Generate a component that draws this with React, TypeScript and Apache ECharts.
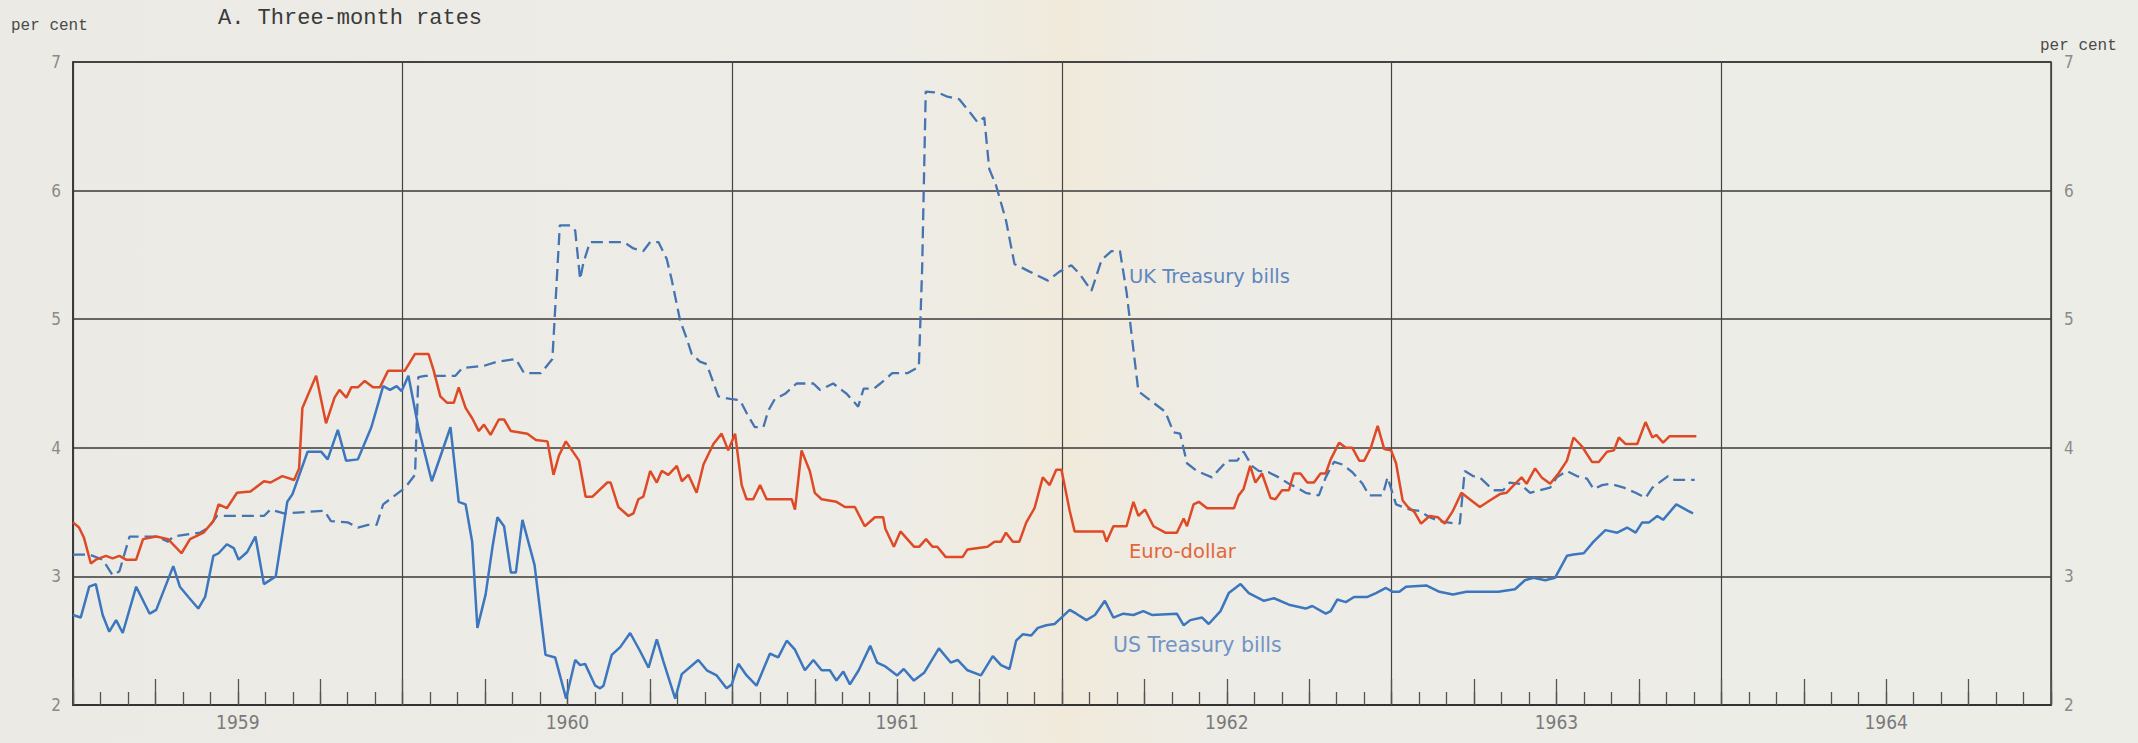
import React, { useEffect, useRef } from "react";
import * as echarts from "echarts";

// x = months since January 1959, y = per cent
const YEARS = ["1959", "1960", "1961", "1962", "1963", "1964"];

const EURO_DOLLAR: [number, number][] = [
  [0, 3.42], [0.22, 3.38], [0.4, 3.3], [0.65, 3.1], [0.83, 3.13], [1.2, 3.16], [1.44, 3.14], [1.69, 3.16],
  [1.93, 3.13], [2.3, 3.13], [2.55, 3.29], [3.03, 3.31], [3.46, 3.29], [3.95, 3.18], [4.26, 3.29], [4.75, 3.34],
  [5.11, 3.43], [5.3, 3.56], [5.6, 3.53], [5.97, 3.65], [6.46, 3.66], [6.95, 3.74], [7.19, 3.73], [7.62, 3.78],
  [8.05, 3.75], [8.23, 3.84], [8.35, 4.31], [8.85, 4.56], [9.21, 4.19], [9.52, 4.39], [9.7, 4.45], [9.95, 4.39],
  [10.13, 4.47], [10.37, 4.47], [10.62, 4.52], [10.92, 4.47], [11.17, 4.47], [11.47, 4.6], [12.08, 4.6],
  [12.45, 4.73], [12.94, 4.73], [13.13, 4.6], [13.37, 4.4], [13.62, 4.35], [13.86, 4.35], [14.04, 4.47],
  [14.29, 4.31], [14.53, 4.23], [14.77, 4.13], [14.96, 4.18], [15.2, 4.1], [15.5, 4.22], [15.69, 4.22],
  [15.94, 4.13], [16.54, 4.11], [16.85, 4.06], [17.27, 4.05], [17.49, 3.79], [17.69, 3.94], [17.94, 4.05],
  [18.42, 3.9], [18.66, 3.62], [18.91, 3.62], [19.45, 3.73], [19.57, 3.73], [19.85, 3.54], [20.22, 3.47],
  [20.4, 3.49], [20.58, 3.6], [20.76, 3.62], [21.01, 3.82], [21.25, 3.73], [21.43, 3.82], [21.67, 3.79],
  [21.98, 3.86], [22.16, 3.74], [22.4, 3.79], [22.7, 3.65], [22.95, 3.87], [23.31, 4.03], [23.61, 4.11],
  [23.85, 3.98], [24.1, 4.11], [24.34, 3.71], [24.52, 3.6], [24.76, 3.6], [25.01, 3.71], [25.25, 3.6],
  [26.16, 3.6], [26.28, 3.52], [26.52, 3.98], [26.82, 3.82], [27.0, 3.65], [27.25, 3.6], [27.79, 3.58],
  [28.1, 3.54], [28.46, 3.54], [28.82, 3.39], [29.19, 3.46], [29.49, 3.46], [29.57, 3.37], [29.88, 3.23],
  [30.12, 3.35], [30.37, 3.29], [30.62, 3.23], [30.8, 3.23], [31.05, 3.29], [31.29, 3.23], [31.46, 3.23],
  [31.77, 3.15], [32.38, 3.15], [32.56, 3.21], [33.29, 3.23], [33.54, 3.27], [33.78, 3.27], [33.96, 3.34],
  [34.21, 3.27], [34.45, 3.27], [34.7, 3.42], [35.0, 3.53], [35.3, 3.77], [35.55, 3.71], [35.79, 3.83],
  [35.98, 3.83], [36.28, 3.51], [36.46, 3.35], [37.5, 3.35], [37.62, 3.27], [37.87, 3.39], [38.35, 3.39],
  [38.6, 3.58], [38.78, 3.47], [39.02, 3.52], [39.33, 3.39], [39.76, 3.34], [40.18, 3.34], [40.43, 3.45],
  [40.55, 3.39], [40.79, 3.56], [40.98, 3.58], [41.28, 3.53], [42.26, 3.53], [42.43, 3.63], [42.61, 3.68],
  [42.85, 3.86], [43.04, 3.73], [43.28, 3.8], [43.59, 3.61], [43.77, 3.6], [44.01, 3.67], [44.26, 3.67],
  [44.44, 3.8], [44.68, 3.8], [44.93, 3.73], [45.17, 3.73], [45.41, 3.8], [45.6, 3.8], [45.78, 3.91],
  [46.09, 4.04], [46.33, 4.0], [46.57, 4.0], [46.82, 3.9], [47.0, 3.9], [47.24, 4.0], [47.49, 4.17],
  [47.73, 3.99], [47.98, 3.98], [48.16, 3.88], [48.4, 3.59], [48.59, 3.54], [48.83, 3.5], [49.07, 3.41],
  [49.38, 3.47], [49.68, 3.46], [49.93, 3.41], [50.23, 3.51], [50.54, 3.65], [50.84, 3.6], [51.21, 3.54],
  [51.57, 3.59], [51.94, 3.64], [52.18, 3.65], [52.49, 3.72], [52.73, 3.77], [52.91, 3.72], [53.22, 3.84],
  [53.46, 3.77], [53.77, 3.72], [54.07, 3.8], [54.38, 3.9], [54.62, 4.08], [54.93, 4.01], [55.29, 3.89],
  [55.54, 3.89], [55.84, 3.97], [56.09, 3.98], [56.27, 4.08], [56.51, 4.03], [56.94, 4.03], [57.24, 4.2],
  [57.49, 4.08], [57.63, 4.1], [57.88, 4.04], [58.12, 4.09], [59.09, 4.09],
];

const UK_TREASURY_BILLS: [number, number][] = [
  [0, 3.17], [0.59, 3.17], [1.08, 3.13], [1.44, 3.01], [1.69, 3.04], [2.06, 3.31], [3.03, 3.31], [3.46, 3.27],
  [3.65, 3.31], [4.62, 3.34], [4.93, 3.38], [5.24, 3.47], [6.95, 3.47], [7.19, 3.52], [7.68, 3.49], [9.15, 3.51],
  [9.39, 3.43], [10.0, 3.42], [10.37, 3.38], [10.74, 3.4], [11.05, 3.4], [11.29, 3.56], [11.6, 3.61],
  [12.09, 3.69], [12.45, 3.79], [12.57, 4.55], [12.82, 4.56], [13.92, 4.56], [14.17, 4.62], [15.0, 4.64],
  [15.45, 4.67], [16.12, 4.69], [16.42, 4.58], [17.03, 4.58], [17.45, 4.69], [17.72, 5.73], [18.1, 5.73],
  [18.28, 5.69], [18.46, 5.31], [18.58, 5.44], [18.82, 5.6], [20.05, 5.6], [20.4, 5.55], [20.76, 5.53],
  [21.01, 5.6], [21.31, 5.6], [21.61, 5.47], [21.79, 5.31], [22.1, 4.99], [22.34, 4.85], [22.52, 4.73],
  [22.82, 4.67], [23.07, 4.65], [23.49, 4.4], [23.92, 4.38], [24.28, 4.37], [24.52, 4.27], [24.82, 4.16],
  [25.13, 4.16], [25.31, 4.29], [25.55, 4.38], [25.92, 4.42], [26.34, 4.5], [26.95, 4.5], [27.19, 4.45],
  [27.67, 4.5], [28.16, 4.42], [28.58, 4.32], [28.78, 4.46], [29.15, 4.46], [29.39, 4.5], [29.82, 4.58],
  [30.37, 4.58], [30.79, 4.63], [30.91, 5.4], [31.04, 6.77], [31.52, 6.76], [31.83, 6.73], [32.26, 6.71],
  [32.68, 6.6], [32.93, 6.53], [33.17, 6.57], [33.35, 6.17], [33.6, 6.04], [33.96, 5.77], [34.27, 5.43],
  [34.82, 5.37], [35.49, 5.3], [35.91, 5.37], [36.34, 5.42], [36.65, 5.35], [37.07, 5.22], [37.44, 5.46],
  [37.8, 5.53], [38.11, 5.53], [38.35, 5.21], [38.78, 4.44], [39.33, 4.35], [39.76, 4.28], [40.06, 4.12],
  [40.3, 4.11], [40.55, 3.88], [40.91, 3.82], [41.46, 3.77], [42.01, 3.9], [42.38, 3.9], [42.61, 3.97],
  [42.91, 3.86], [43.16, 3.82], [43.52, 3.81], [43.89, 3.77], [44.26, 3.72], [44.56, 3.69], [44.87, 3.65],
  [45.35, 3.63], [45.6, 3.77], [45.9, 3.89], [46.21, 3.87], [46.57, 3.81], [46.94, 3.72], [47.18, 3.63],
  [47.67, 3.63], [47.85, 3.77], [48.16, 3.56], [48.4, 3.54], [48.65, 3.52], [49.01, 3.51], [49.38, 3.46],
  [49.74, 3.43], [50.35, 3.41], [50.48, 3.41], [50.66, 3.82], [50.96, 3.78], [51.21, 3.77], [51.7, 3.67],
  [52.06, 3.67], [52.3, 3.73], [52.67, 3.72], [53.04, 3.65], [53.4, 3.67], [53.77, 3.69], [54.01, 3.77],
  [54.38, 3.82], [54.74, 3.78], [55.11, 3.76], [55.35, 3.68], [55.66, 3.71], [55.96, 3.72], [56.45, 3.69],
  [56.88, 3.65], [57.24, 3.61], [57.49, 3.69], [58.06, 3.78], [58.3, 3.75], [59.03, 3.75],
];

const US_TREASURY_BILLS: [number, number][] = [
  [0, 2.7], [0.28, 2.68], [0.59, 2.92], [0.83, 2.94], [1.08, 2.7], [1.32, 2.57], [1.57, 2.66], [1.81, 2.56],
  [2.3, 2.92], [2.79, 2.71], [3.03, 2.74], [3.65, 3.08], [3.89, 2.92], [4.2, 2.84], [4.56, 2.75], [4.81, 2.84],
  [5.11, 3.16], [5.3, 3.18], [5.6, 3.25], [5.85, 3.22], [6.03, 3.13], [6.34, 3.19], [6.64, 3.31], [6.95, 2.94],
  [7.38, 3.0], [7.8, 3.58], [7.99, 3.64], [8.54, 3.97], [9.03, 3.97], [9.27, 3.91], [9.64, 4.14], [9.94, 3.9],
  [10.37, 3.91], [10.86, 4.16], [11.29, 4.48], [11.54, 4.45], [11.78, 4.48], [11.96, 4.44], [12.21, 4.56],
  [12.57, 4.16], [13.06, 3.74], [13.74, 4.16], [14.04, 3.58], [14.29, 3.56], [14.53, 3.27], [14.72, 2.6],
  [15.02, 2.86], [15.27, 3.23], [15.45, 3.46], [15.69, 3.39], [15.94, 3.03], [16.12, 3.03], [16.36, 3.44],
  [16.8, 3.09], [17.2, 2.39], [17.55, 2.37], [17.95, 2.05], [18.28, 2.35], [18.46, 2.31], [18.64, 2.32],
  [19.01, 2.15], [19.19, 2.13], [19.31, 2.15], [19.61, 2.39], [19.92, 2.45], [20.28, 2.56], [20.64, 2.42],
  [20.95, 2.29], [21.25, 2.51], [21.49, 2.34], [21.92, 2.05], [22.16, 2.24], [22.76, 2.35], [23.07, 2.27],
  [23.43, 2.23], [23.79, 2.13], [23.98, 2.16], [24.22, 2.32], [24.52, 2.23], [24.88, 2.15], [25.37, 2.4],
  [25.67, 2.37], [25.98, 2.5], [26.28, 2.43], [26.64, 2.27], [26.95, 2.35], [27.25, 2.27], [27.55, 2.27],
  [27.79, 2.19], [28.04, 2.26], [28.28, 2.16], [28.6, 2.27], [29.02, 2.46], [29.27, 2.33], [29.57, 2.3],
  [30.0, 2.23], [30.24, 2.28], [30.61, 2.19], [30.98, 2.25], [31.52, 2.44], [31.95, 2.33], [32.2, 2.35],
  [32.56, 2.27], [33.05, 2.23], [33.48, 2.38], [33.78, 2.31], [34.09, 2.28], [34.33, 2.5], [34.57, 2.55],
  [34.88, 2.54], [35.12, 2.6], [35.43, 2.62], [35.73, 2.63], [35.98, 2.68], [36.28, 2.74], [36.52, 2.71],
  [36.89, 2.66], [37.2, 2.7], [37.56, 2.81], [37.87, 2.68], [38.23, 2.71], [38.6, 2.7], [38.96, 2.73],
  [39.27, 2.7], [40.18, 2.71], [40.43, 2.62], [40.67, 2.66], [41.1, 2.68], [41.34, 2.63], [41.77, 2.73],
  [42.07, 2.87], [42.5, 2.94], [42.8, 2.87], [43.35, 2.81], [43.72, 2.83], [44.26, 2.78], [44.87, 2.75],
  [45.11, 2.77], [45.6, 2.71], [45.78, 2.73], [46.02, 2.82], [46.33, 2.8], [46.63, 2.84], [47.12, 2.84],
  [47.43, 2.87], [47.79, 2.91], [48.04, 2.88], [48.28, 2.88], [48.52, 2.92], [49.26, 2.93], [49.74, 2.88],
  [50.23, 2.86], [50.72, 2.88], [51.33, 2.88], [51.88, 2.88], [52.49, 2.9], [52.85, 2.97], [53.16, 2.99],
  [53.59, 2.97], [53.95, 2.99], [54.38, 3.16], [54.62, 3.17], [54.99, 3.18], [55.35, 3.27], [55.78, 3.36],
  [56.21, 3.34], [56.57, 3.38], [56.88, 3.34], [57.12, 3.42], [57.37, 3.42], [57.67, 3.47], [57.88, 3.44],
  [58.36, 3.56], [58.79, 3.51], [58.97, 3.49],
];

const NUM_FONT = "'Liberation Sans Narrow', 'DejaVu Sans Condensed', 'Roboto', sans-serif";
const LABEL_FONT = "'DejaVu Sans', sans-serif";
const MONO_FONT = "'Liberation Mono', 'DejaVu Sans Mono', monospace";

export default function App() {
  const ref = useRef<HTMLDivElement>(null);

  useEffect(() => {
    document.body.style.margin = "0";
    document.body.style.background = "#edece7";
    const chart = echarts.init(ref.current as HTMLDivElement, null, { renderer: "svg" });
    const ink = "#3a3a3a";
    const tickStyle = { color: "#555", width: 1.3 };
    chart.setOption({
      animation: false,
      backgroundColor: "transparent",
      grid: {
        left: 73,
        right: 87,
        top: 62,
        bottom: 38,
        show: true,
        borderColor: ink,
        borderWidth: 1.5,
        backgroundColor: "transparent",
      },
      xAxis: [
        {
          type: "value", min: 0, max: 72, interval: 1, position: "bottom",
          axisLine: { show: true, lineStyle: { color: "#333", width: 2 } },
          axisTick: { show: true, inside: true, length: 13, lineStyle: tickStyle },
          axisLabel: { show: false },
          splitLine: { show: false },
        },
        {
          type: "value", min: 0, max: 72, interval: 3, position: "bottom",
          axisLine: { show: false },
          axisTick: { show: true, inside: true, length: 26, lineStyle: tickStyle },
          axisLabel: { show: false },
          splitLine: { show: false },
        },
        {
          type: "value", min: 0, max: 72, interval: 12, position: "bottom",
          axisLine: { show: false },
          axisTick: { show: false },
          axisLabel: { show: false },
          splitLine: { show: true, lineStyle: { color: "#444", width: 1.2 } },
        },
        {
          type: "category", data: YEARS, position: "bottom", boundaryGap: true,
          axisLine: { show: false },
          axisTick: { show: false },
          axisLabel: { color: "#7a7a7a", fontSize: 19, margin: 7, fontFamily: NUM_FONT },
          splitLine: { show: false },
        },
      ],
      yAxis: [
        {
          type: "value", min: 2, max: 7, interval: 1, position: "left",
          axisLine: { show: true, lineStyle: { color: ink, width: 1.5 } },
          axisTick: { show: false },
          axisLabel: { color: "#8a8a8a", fontSize: 17, margin: 12, fontFamily: NUM_FONT },
          splitLine: { show: true, lineStyle: { color: ink, width: 1.7 } },
        },
        {
          type: "value", min: 2, max: 7, interval: 1, position: "right",
          axisLine: { show: true, lineStyle: { color: ink, width: 1.5 } },
          axisTick: { show: false },
          axisLabel: { color: "#8a8a8a", fontSize: 17, margin: 13, fontFamily: NUM_FONT },
          splitLine: { show: false },
        },
      ],
      series: [
        {
          name: "UK Treasury bills", type: "line", data: UK_TREASURY_BILLS,
          xAxisIndex: 0, yAxisIndex: 0, symbol: "none", showSymbol: false,
          lineStyle: { color: "#4574b2", width: 2.3, type: [12, 6] }, z: 3,
        },
        {
          name: "US Treasury bills", type: "line", data: US_TREASURY_BILLS,
          xAxisIndex: 0, yAxisIndex: 0, symbol: "none", showSymbol: false,
          lineStyle: { color: "#3b76be", width: 2.5 }, z: 4,
        },
        {
          name: "Euro-dollar", type: "line", data: EURO_DOLLAR,
          xAxisIndex: 0, yAxisIndex: 0, symbol: "none", showSymbol: false,
          lineStyle: { color: "#de4a26", width: 2.5 }, z: 5,
        },
      ],
      graphic: [
        {
          type: "text", x: 218, y: 18,
          style: { text: "A. Three-month rates", fontFamily: MONO_FONT, fontSize: 22, fill: "#3a3a3a", verticalAlign: "middle", align: "left" },
        },
        {
          type: "text", x: 11, y: 26,
          style: { text: "per cent", fontFamily: MONO_FONT, fontSize: 16, fill: "#4a4a4a", verticalAlign: "middle", align: "left" },
        },
        {
          type: "text", x: 2040, y: 46,
          style: { text: "per cent", fontFamily: MONO_FONT, fontSize: 16, fill: "#4a4a4a", verticalAlign: "middle", align: "left" },
        },
        {
          type: "text", x: 1129, y: 276,
          style: { text: "UK Treasury bills", fontFamily: LABEL_FONT, fontSize: 19.5, fill: "#5f87bd", verticalAlign: "middle", align: "left" },
        },
        {
          type: "text", x: 1129, y: 551,
          style: { text: "Euro-dollar", fontFamily: LABEL_FONT, fontSize: 19.5, fill: "#e2673c", verticalAlign: "middle", align: "left" },
        },
        {
          type: "text", x: 1113, y: 645,
          style: { text: "US Treasury bills", fontFamily: LABEL_FONT, fontSize: 20.5, fill: "#7094c6", verticalAlign: "middle", align: "left" },
        },
      ],
    });
    return () => chart.dispose();
  }, []);

  return (
    <div
      ref={ref}
      style={{
        width: 2138,
        height: 743,
        background:
          "linear-gradient(90deg, #ebeae5 0%, #edece6 42%, #efebe0 47%, #f1eadb 50%, #efebe1 53%, #edece7 58%, #edede8 100%)",
      }}
    />
  );
}
